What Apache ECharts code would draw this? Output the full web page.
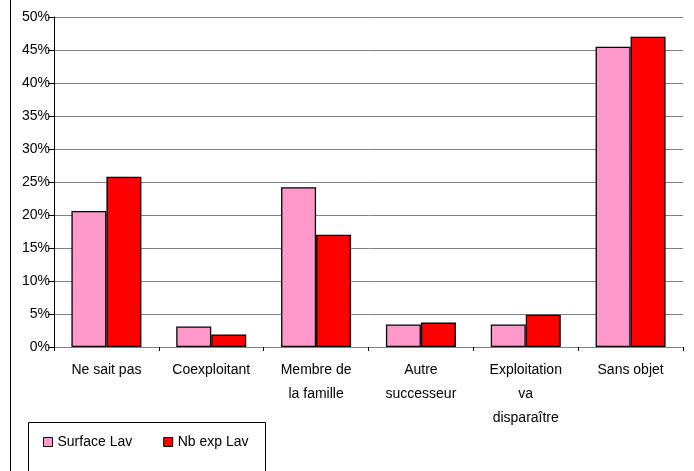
<!DOCTYPE html>
<html>
<head>
<meta charset="utf-8">
<script src="https://cdn.jsdelivr.net/npm/echarts@6/dist/echarts.min.js"></script>
<style>
  html, body { margin: 0; padding: 0; background: #fff; }
  #main { width: 694px; height: 471px; }
</style>
</head>
<body>
<div id="main"></div>
<script>
// categories on the x axis
var categories = ['Ne sait pas', 'Coexploitant', 'Membre de\nla famille', 'Autre\nsuccesseur', 'Exploitation\nva\ndisparaître', 'Sans objet'];
// values in %
var surfaceLav = [20.6, 3.1, 24.2, 3.4, 3.4, 45.5];
var nbExpLav = [25.8, 1.9, 17.0, 3.7, 4.9, 47.0];
var seriesNames = ['Surface Lav', 'Nb exp Lav'];

var font = 'Liberation Sans, Arial, sans-serif';

var myChart = echarts.init(document.getElementById('main'));
myChart.setOption({
  animation: false,
  backgroundColor: '#ffffff',
  grid: {
    left: 54,
    right: 11,
    top: 17,
    bottom: 124
  },
  legend: {
    data: seriesNames,
    left: 38,
    top: 430,
    icon: 'rect',
    itemWidth: 9,
    itemHeight: 9,
    itemGap: 31,
    itemStyle: { borderColor: '#000', borderWidth: 1 },
    textStyle: { fontFamily: font, fontSize: 14, color: '#000' }
  },
  xAxis: {
    type: 'category',
    data: categories,
    axisLine: { show: true, lineStyle: { color: '#808080', width: 1 } },
    axisTick: { show: true, length: 4, lineStyle: { color: '#000' } },
    axisLabel: {
      interval: 0,
      margin: 11,
      fontFamily: font,
      fontSize: 14,
      lineHeight: 24,
      color: '#000'
    }
  },
  yAxis: {
    type: 'value',
    min: 0,
    max: 50,
    interval: 5,
    axisLine: { show: true, lineStyle: { color: '#000', width: 1 } },
    axisTick: { show: true, length: 6, lineStyle: { color: '#000' } },
    axisLabel: {
      margin: 4,
      formatter: '{value}%',
      fontFamily: font,
      fontSize: 14,
      color: '#000'
    },
    splitLine: { show: true, lineStyle: { color: '#808080', width: 1 } }
  },
  series: [{
    name: seriesNames[0],
    type: 'bar',
    data: surfaceLav,
    barWidth: 35,
    barGap: 0,
    itemStyle: { color: '#FF99CC', borderColor: '#000', borderWidth: 1.3 }
  }, {
    name: seriesNames[1],
    type: 'bar',
    data: nbExpLav,
    barWidth: 35,
    barGap: 0,
    itemStyle: { color: '#FF0000', borderColor: '#000', borderWidth: 1.3 }
  }],
  graphic: [{
    // outer frame (left edge visible)
    type: 'line',
    shape: { x1: 10.5, y1: 0, x2: 10.5, y2: 471 },
    style: { stroke: '#000', lineWidth: 1 }
  }, {
    // legend box
    type: 'rect',
    shape: { x: 28.5, y: 422.5, width: 237, height: 60 },
    style: { fill: 'none', stroke: '#000', lineWidth: 1 },
    z: -1
  }]
});
</script>
</body>
</html>
